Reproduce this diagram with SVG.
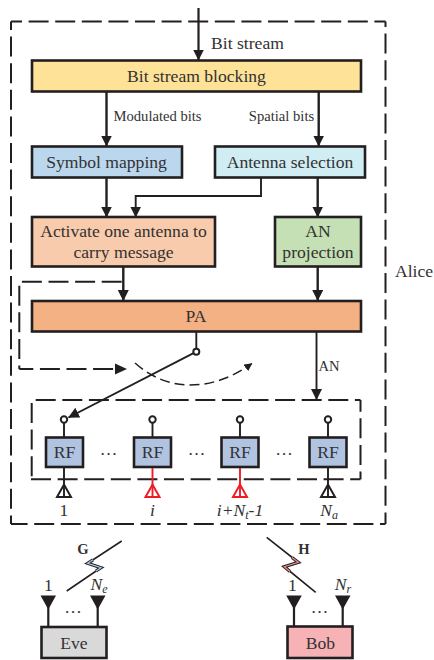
<svg xmlns="http://www.w3.org/2000/svg" width="434" height="660" viewBox="0 0 434 660">
<style>
text{font-family:"Liberation Serif","Times New Roman",serif;fill:#333132;font-size:17.6px;text-anchor:middle}
.sm{font-size:14.6px}
.sub{font-size:12px}
.it{font-style:italic}
.b{stroke:#231f20;stroke-width:2.6}
.l{fill:none;stroke:#231f20;stroke-width:2.4}
.d{fill:none;stroke:#231f20;stroke-width:2;stroke-dasharray:20 6.6}
.d2{fill:none;stroke:#231f20;stroke-width:1.5;stroke-dasharray:10 5}
.c{fill:#fff;stroke:#231f20;stroke-width:2}
.at{fill:#fff;stroke:#231f20;stroke-width:2}
.ar{fill:#fff;stroke:#ee1c25;stroke-width:2}
.tip{fill:#231f20}
</style>
<defs>
<marker id="a" viewBox="0 0 11 11" refX="10.5" refY="5.5" markerWidth="11" markerHeight="11" markerUnits="userSpaceOnUse" orient="auto"><path d="M0 0L11 5.5L0 11Z" fill="#231f20"/></marker>
<marker id="a2" viewBox="0 0 11 11" refX="10.5" refY="5.5" markerWidth="8" markerHeight="8" markerUnits="userSpaceOnUse" orient="auto"><path d="M0 0L11 5.5L0 11Z" fill="#231f20"/></marker>
</defs>

<g id="alice-frame">
<path class="d" d="M11 21.5H385.5" stroke-dashoffset="9"/>
<path class="d" d="M11 21.5V524" stroke-dashoffset="11.5"/>
<path class="d" d="M385.5 21.5V524" stroke-dashoffset="14.5"/>
<path class="d" d="M385.5 524H11" stroke-dashoffset="14.5"/>
<text x="414" y="277">Alice</text></g>
<g id="rf-frame">
<path class="d" d="M31.7 400H360.5" stroke-dashoffset="22.6"/>
<path class="d" d="M360.5 400V479.3" stroke-dashoffset="8.3"/>
<path class="d" d="M31 479.3H360.5"/>
<path class="d" d="M31.7 400V479.3" stroke-dashoffset="23.6"/>
</g>

<g id="connectors">
<path class="l" d="M198.5 8V60" marker-end="url(#a)" style="stroke-width:2.2"/>
<path class="l" d="M106.5 92V146" marker-end="url(#a)"/>
<path class="l" d="M318.7 92V146" marker-end="url(#a)"/>
<path class="l" d="M106.5 178V217" marker-end="url(#a)"/>
<path class="l" d="M261 178V196H135.7V217" marker-end="url(#a)" style="stroke-width:1.9"/>
<path class="l" d="M317.7 178V217" marker-end="url(#a)"/>
<path class="l" d="M123.3 267V300.5" marker-end="url(#a)"/>
<path class="l" d="M317.7 267V300.5" marker-end="url(#a)"/>
<path class="d" d="M123 281.7H19.3V369" stroke-dashoffset="25.3"/>
<path class="d" d="M19.3 369H114" stroke-dashoffset="6"/>
<path class="tip" d="M115 363.5L127 369L115 374.5Z"/>
<path class="l" d="M196.3 332V348" style="stroke-width:1.9"/>
<path class="l" d="M193.5 353.2L68.5 417.5" marker-end="url(#a)" style="stroke-width:1.9"/>
<path class="d2" d="M135 363Q160 385 190 385Q222 385 252 363.5" marker-end="url(#a2)"/>
<path class="l" d="M316.5 332V399.5" marker-end="url(#a)" style="stroke-width:1.9"/>
</g>

<g id="bit-stream-label"><text x="247.5" y="49">Bit stream</text></g>
<g id="modulated-label"><text x="157.5" y="120.5" class="sm">Modulated bits</text></g>
<g id="spatial-label"><text x="281.5" y="120.5" class="sm">Spatial bits</text></g>
<g id="an-label"><text x="329" y="371" class="sm">AN</text></g>

<g id="blocking"><rect class="b" x="32" y="60.5" width="329" height="31" fill="#fde298"/><text x="196.5" y="81.5">Bit stream blocking</text></g>
<g id="symbol"><rect class="b" x="32" y="146.5" width="150" height="31" fill="#bbd7ee"/><text x="106.5" y="168">Symbol mapping</text></g>
<g id="antenna-selection"><rect class="b" x="215" y="146.5" width="150" height="31" fill="#d0edf3"/><text x="290" y="168">Antenna selection</text></g>
<g id="activate"><rect class="b" x="32" y="217" width="183" height="49.5" fill="#f8cbac"/><text x="123.5" y="237">Activate one antenna to</text><text x="123.5" y="258">carry message</text></g>
<g id="an-projection"><rect class="b" x="275" y="217" width="86" height="49.5" fill="#c5e0b4"/><text x="318" y="237">AN</text><text x="318" y="258">projection</text></g>
<g id="pa"><rect class="b" x="32" y="301" width="329" height="30.5" fill="#f4b183"/><text x="196" y="322">PA</text></g>
<g id="switch"><circle class="c" cx="196.3" cy="351.7" r="3"/></g>

<g id="rf1">
<path class="l" d="M64 423V437M64 467V497" style="stroke-width:1.9"/><circle class="c" cx="64" cy="419.5" r="3.2"/>
<rect class="b" x="46" y="437.5" width="37" height="29.5" fill="#b0c4e2"/><text x="64.5" y="458">RF</text>
<path class="at" transform="translate(64 497)" d="M-7 0L0 -12.5L7 0Z"/><path class="l" d="M64 485V497" style="stroke-width:1.9"/><text x="64" y="516">1</text>
</g>
<g id="rf2">
<path class="l" d="M152.5 423V437" style="stroke-width:1.9"/><circle class="c" cx="152.5" cy="419.5" r="3.2"/>
<rect class="b" x="134" y="437.5" width="37" height="29.5" fill="#b0c4e2"/><text x="152.5" y="458">RF</text>
<path class="ar" transform="translate(152.5 497)" d="M-7 0L0 -12.5L7 0Z"/><path d="M152.5 468V497" fill="none" stroke="#ee1c25" stroke-width="1.9"/><text x="152.5" y="516" class="it">i</text>
</g>
<g id="rf3">
<path class="l" d="M240 423V437" style="stroke-width:1.9"/><circle class="c" cx="240" cy="419.5" r="3.2"/>
<rect class="b" x="221.5" y="437.5" width="37" height="29.5" fill="#b0c4e2"/><text x="240" y="458">RF</text>
<path class="ar" transform="translate(240 497)" d="M-7 0L0 -12.5L7 0Z"/><path d="M240 468V497" fill="none" stroke="#ee1c25" stroke-width="1.9"/><text x="240" y="516" class="it">i+N<tspan class="sub" dy="3">t</tspan><tspan dy="-3">-1</tspan></text>
</g>
<g id="rf4">
<path class="l" d="M328 423V437M328 467V497" style="stroke-width:1.9"/><circle class="c" cx="328" cy="419.5" r="3.2"/>
<rect class="b" x="309.5" y="437.5" width="37" height="29.5" fill="#b0c4e2"/><text x="328" y="458">RF</text>
<path class="at" transform="translate(328 497)" d="M-7 0L0 -12.5L7 0Z"/><path class="l" d="M328 485V497" style="stroke-width:1.9"/><text x="329" y="516" class="it">N<tspan class="sub" dy="3">a</tspan></text>
</g>
<g id="rf-dots"><text x="108.5" y="454.5">…</text><text x="196.5" y="454.5">…</text><text x="284" y="454.5">…</text></g>

<g id="eve">
<path class="l" d="M48.3 605V627M97.7 605V627" style="stroke-width:2.2"/>
<path class="tip" d="M40.5 595.5H56L48.3 609.5ZM90 595.5H105.5L97.7 609.5Z"/>
<rect class="b" x="41.5" y="627" width="65" height="31" fill="#d9d9d9"/><text x="74" y="649">Eve</text>
<text x="48.5" y="591">1</text><text x="99" y="590" class="it">N<tspan class="sub" dy="3">e</tspan></text><text x="73" y="612.5">…</text>
</g>
<g id="link-g">
<path d="M121.7 541L87.7 563.3L101 567.7L66.7 591" fill="none" stroke="#231f20" stroke-width="1.6"/>
<path d="M93 559.8L87.7 563.3L101 567.7L96 571" fill="none" stroke="#231f20" stroke-width="3.2"/>
<path d="M93 559.8L87.7 563.3L101 567.7L96 571" fill="none" stroke="#a8cbe8" stroke-width="1.3"/>
<text x="83" y="553.5" class="sm" font-weight="bold">G</text>
</g>
<g id="bob">
<path class="l" d="M294 605V626M342.7 605V626" style="stroke-width:2.2"/>
<path class="tip" d="M286.2 595.5H301.8L294 609.5ZM335 595.5H350.5L342.7 609.5Z"/>
<rect class="b" x="287.5" y="626.5" width="65" height="31.5" fill="#f7b2b5"/><text x="320.5" y="648.5">Bob</text>
<text x="292.5" y="591">1</text><text x="343" y="590" class="it">N<tspan class="sub" dy="3">r</tspan></text><text x="319.5" y="612.5">…</text>
</g>
<g id="link-h">
<path d="M266.7 537.3L298.3 562.3L284.3 566.7L315.7 592.3" fill="none" stroke="#231f20" stroke-width="1.6"/>
<path d="M292 557.5L298.3 562.3L284.3 566.7L290 571.5" fill="none" stroke="#231f20" stroke-width="3.2"/>
<path d="M292 557.5L298.3 562.3L284.3 566.7L290 571.5" fill="none" stroke="#f08a90" stroke-width="1.3"/>
<text x="304" y="553.5" class="sm" font-weight="bold">H</text>
</g>
</svg>
